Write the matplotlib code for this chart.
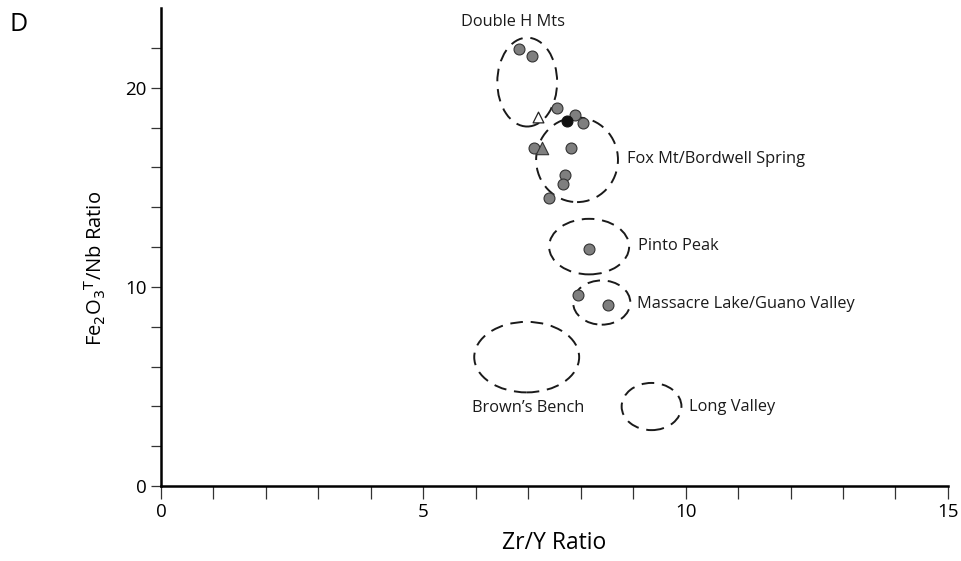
import matplotlib.pyplot as plt
from matplotlib.patches import Ellipse

plt.rcParams['font.family'] = ['Open Sans', 'DejaVu Sans']

# gray circles (samples)
zr_y = [6.83, 7.08, 7.55, 7.89, 8.05, 7.11, 7.81, 7.70, 7.67, 7.39, 8.16, 7.95, 8.52]
fe_nb = [21.94, 21.6, 18.96, 18.63, 18.23, 16.98, 16.98, 15.62, 15.17, 14.45, 11.91, 9.61, 9.07]
# other symbols
black_x, black_y = [7.73], [18.31]
open_tri_x, open_tri_y = [7.19], [18.55]
gray_tri_x, gray_tri_y = [7.26], [16.98]

# source fields: name, centre x, centre y, width, height
sources = ['Double H Mts', 'Fox Mt/Bordwell Spring', 'Pinto Peak',
           'Massacre Lake/Guano Valley', "Brown\u2019s Bench", 'Long Valley']
cx = [6.98, 7.93, 8.16, 8.40, 6.97, 9.35]
cy = [20.28, 16.38, 12.02, 9.21, 6.47, 3.99]
w = [1.14, 1.56, 1.525, 1.09, 2.0, 1.14]
h = [4.46, 4.25, 2.79, 2.22, 3.54, 2.37]
label_x = [6.71, 8.88, 9.09, 9.07, 7.0, 10.06]
label_y = [23.3, 16.44, 12.03, 9.12, 3.9, 3.96]
label_ha = ['center', 'left', 'left', 'left', 'center', 'left']

fig = plt.figure(figsize=(9.62, 5.61), dpi=100)
ax = fig.add_axes([0.1674, 0.1337, 0.818, 0.852])

for i in range(len(sources)):
    ax.add_patch(Ellipse((cx[i], cy[i]), w[i], h[i], fill=False, edgecolor='#1a1a1a',
                         linewidth=1.4, linestyle=(0, (6.5, 4))))
    ax.text(label_x[i], label_y[i], sources[i], ha=label_ha[i], va='center',
            fontsize=11.8, color='#1a1a1a')

ax.scatter(zr_y, fe_nb, s=62, c='#7f7f7f', edgecolors='#333333', linewidths=0.8, zorder=3)
ax.scatter(black_x, black_y, s=62, c='#111111', edgecolors='#111111', linewidths=0.8, zorder=4)
ax.scatter(open_tri_x, open_tri_y, s=60, marker='^', c='white', edgecolors='#222222',
           linewidths=0.9, zorder=3)
ax.scatter(gray_tri_x, gray_tri_y, s=80, marker='^', c='#7f7f7f', edgecolors='#333333',
           linewidths=0.8, zorder=4)

ax.set_xlim(0, 15)
ax.set_ylim(0, 24)
ax.spines['top'].set_visible(False)
ax.spines['right'].set_visible(False)
ax.spines['left'].set_linewidth(1.8)
ax.spines['bottom'].set_linewidth(1.8)
ax.set_xticks([0, 5, 10, 15])
ax.set_xticks(range(16), minor=True)
ax.set_yticks([0, 10, 20])
ax.set_yticks(range(0, 24, 2), minor=True)
ax.tick_params(which='both', direction='out', width=0.9, color='#333333')
ax.tick_params(axis='x', which='both', length=9, labelsize=13.5)
ax.tick_params(axis='y', which='both', length=7, labelsize=13.5)

ax.set_xlabel('Zr/Y Ratio', fontsize=16.5, labelpad=7)
ax.set_ylabel(r'Fe$_2$O$_3$$^\mathrm{T}$/Nb Ratio', fontsize=14.5)
ax.yaxis.set_label_coords(-0.068, 0.455)
fig.text(0.01, 0.945, 'D', fontsize=18)

plt.savefig('out.png', dpi=100)
